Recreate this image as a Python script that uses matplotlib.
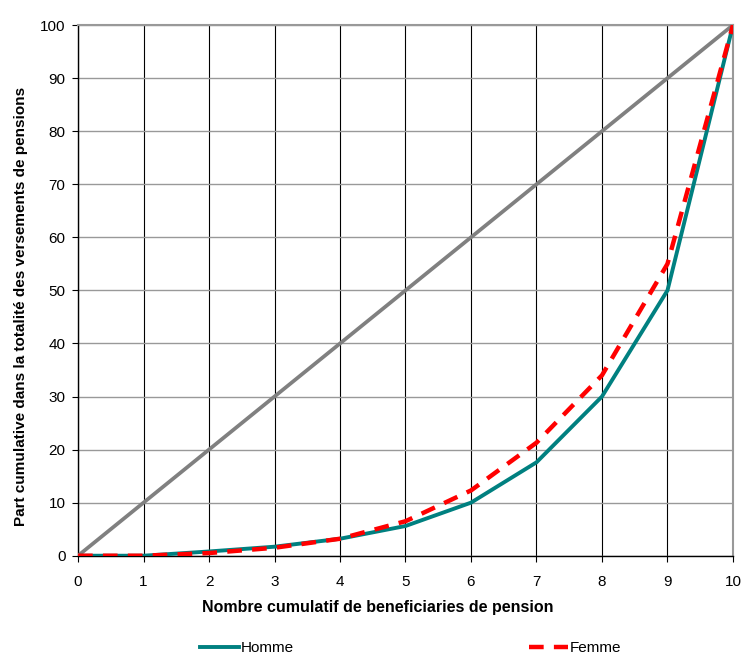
import matplotlib.pyplot as plt

plt.rcParams['font.family'] = ['Liberation Sans', 'DejaVu Sans']

# déciles cumulés des bénéficiaires
deciles = [0, 1, 2, 3, 4, 5, 6, 7, 8, 9, 10]
egalite = [0, 10, 20, 30, 40, 50, 60, 70, 80, 90, 100]
homme = [0, 0, 0.8, 1.7, 3.2, 5.6, 10, 17.6, 30, 50, 100]
femme = [0, 0, 0.5, 1.5, 3.2, 6.5, 12.3, 21.3, 34, 55, 100]

fig = plt.figure(figsize=(7.43, 6.6), dpi=100)
ax = fig.add_axes([0.105, 0.158, 0.8815, 0.804])

ax.plot(deciles, egalite, color='#808080', linewidth=2.7, zorder=3)
ax.plot(deciles, homme, color='#008080', linewidth=2.8, label='Homme', zorder=4)
ax.plot(deciles, femme, color='#ff0000', linewidth=3.2, linestyle=(0, (3.3, 2.3)),
        label='Femme', zorder=5)

ax.set_xlim(0, 10)
ax.set_ylim(0, 100)
ax.set_xticks(range(0, 11))
ax.set_yticks(range(0, 101, 10))
ax.tick_params(labelsize=11, length=4, direction='out', color='black')
ax.tick_params(axis='x', pad=10)
ax.tick_params(axis='y', pad=5)

ax.xaxis.grid(True, color='black', linewidth=0.8)
ax.yaxis.grid(True, color='#999999', linewidth=1.0)
ax.set_axisbelow(True)

for side in ['top', 'right']:
    ax.spines[side].set_color('#999999')
    ax.spines[side].set_linewidth(1.5)
for side in ['left', 'bottom']:
    ax.spines[side].set_color('black')
    ax.spines[side].set_linewidth(1.0)

ax.set_xlabel('Nombre cumulatif de beneficiaries de pension', fontsize=11.5,
              fontweight='bold')
ax.set_ylabel('Part cumulative dans la totalité des versements de pensions',
              fontsize=11, fontweight='bold')
ax.xaxis.set_label_coords(0.457, -0.083)
ax.yaxis.set_label_coords(-0.076, 0.469)

fig.legend(loc='lower center', bbox_to_anchor=(0.5525, -0.014), ncol=2, frameon=False,
           fontsize=11, columnspacing=15.35, handlelength=2.6, handletextpad=0.1)

fig.savefig('out.png', dpi=100)
